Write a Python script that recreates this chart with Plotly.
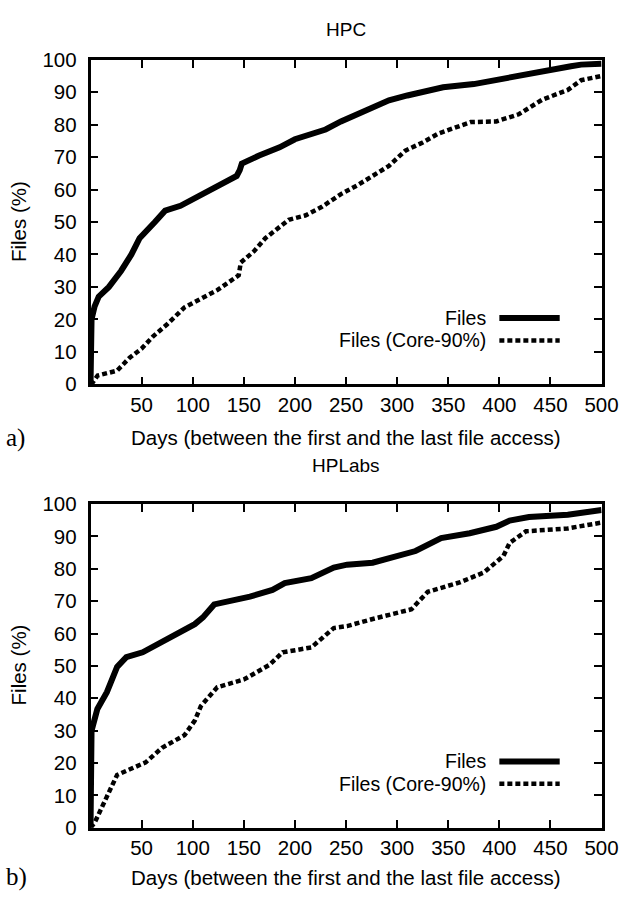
import plotly.graph_objects as go

# ---- data ----
hpc_files_x = [0, 0.5, 1, 4, 8, 18, 30, 40, 48, 63, 73, 88, 100, 115, 128, 143, 146, 148, 165, 185, 200, 215, 230, 245, 260, 275, 292, 310, 330, 345, 375, 404, 430, 451, 470, 480, 500]
hpc_files_y = [0, 12, 20, 24, 27, 30, 35, 40, 45, 50, 53.5, 55, 57, 60, 62, 64.2, 66, 68, 70.5, 73, 75.5, 77, 78.5, 81, 83, 85, 87.5, 89, 90.5, 91.5, 92.5, 94.3, 95.5, 97, 98, 98.5, 98.8]

hpc_core_x = [0, 2, 7, 26, 38, 50, 61, 75, 92, 110, 124, 145, 147, 160, 171, 194, 210, 226, 245, 261, 280, 292, 308, 325, 340, 355, 372, 397, 419, 442, 467, 480, 500]
hpc_core_y = [0, 0.5, 2.7, 4.2, 8.1, 11, 14.7, 18.5, 23.7, 26.5, 29, 33.6, 37.5, 41, 45, 50.7, 52, 54.6, 58.6, 61.3, 65, 67.3, 72, 74.5, 77.2, 79, 80.8, 81, 83.2, 87.7, 90.7, 93.7, 95]

hpl_files_x = [0, 0.5, 1, 6.7, 16, 26, 35, 51, 76, 102, 110, 121, 156, 178, 190, 216, 238, 251, 276, 300, 318, 343, 371, 397, 410, 429, 467, 500]
hpl_files_y = [0, 25, 30, 36.7, 41.9, 49.7, 52.7, 54.2, 58.7, 62.9, 65, 69, 71.4, 73.5, 75.6, 77.1, 80.4, 81.3, 81.9, 84, 85.5, 89.5, 91, 93, 94.9, 96, 96.7, 98.2]

hpl_core_x = [0, 4, 16, 26, 54, 70, 92, 102, 108, 124, 150, 175, 188, 216, 238, 251, 276, 314, 321, 330, 362, 385, 404, 410, 426, 467, 500]
hpl_core_y = [0, 1.5, 9.6, 16.3, 20.2, 24.7, 28.6, 33.1, 37.6, 43.4, 45.8, 50.3, 54.2, 55.7, 61.7, 62.3, 64.5, 67.5, 69.9, 72.9, 75.9, 78.9, 84, 88, 91.6, 92.5, 94.3]

x_ticks = [0, 50, 100, 150, 200, 250, 300, 350, 400, 450, 500]
x_tick_labels = ["", "50", "100", "150", "200", "250", "300", "350", "400", "450", "500"]
y_ticks = [0, 10, 20, 30, 40, 50, 60, 70, 80, 90, 100]

series_names = ["Files", "Files (Core-90%)"]
titles = ["HPC", "HPLabs"]
panel_labels = ["a)", "b)"]
x_title = "Days (between the first and the last file access)"
y_title = "Files (%)"

W, H = 639, 903
FONT = "Liberation Sans, Arial, sans-serif"
FS = 20.5

solid = dict(color="black", width=6)
dashed = dict(color="black", width=4.5, dash="5px,3px")

fig = go.Figure()
fig.add_trace(go.Scatter(x=hpc_files_x, y=hpc_files_y, mode="lines", line=solid, xaxis="x", yaxis="y", showlegend=False))
fig.add_trace(go.Scatter(x=hpc_core_x, y=hpc_core_y, mode="lines", line=dashed, xaxis="x", yaxis="y", showlegend=False))
fig.add_trace(go.Scatter(x=hpl_files_x, y=hpl_files_y, mode="lines", line=solid, xaxis="x2", yaxis="y2", showlegend=False))
fig.add_trace(go.Scatter(x=hpl_core_x, y=hpl_core_y, mode="lines", line=dashed, xaxis="x2", yaxis="y2", showlegend=False))

def px_x(p):
    return p / W

def px_y(p):
    return 1 - p / H

xdom = [px_x(93), px_x(618)]
top_dom = [px_y(382), px_y(49)]
bot_dom = [px_y(837), px_y(505)]

def xaxis(anchor):
    return dict(domain=xdom, anchor=anchor, range=[0, 500], tickmode="array", tickvals=x_ticks,
                ticktext=x_tick_labels, ticks="inside", ticklen=8, tickwidth=2, tickcolor="black",
                showline=True, linewidth=2.5, linecolor="black", mirror="ticks", showgrid=False,
                zeroline=False, tickfont=dict(family=FONT, size=FS, color="black"), ticklabelstandoff=0)

def yaxis(anchor, dom):
    return dict(domain=dom, anchor=anchor, range=[0, 100], tickmode="array", tickvals=y_ticks,
                ticks="inside", ticklen=8, tickwidth=2, tickcolor="black",
                showline=True, linewidth=2.5, linecolor="black", mirror="ticks", showgrid=False,
                zeroline=False, tickfont=dict(family=FONT, size=FS, color="black"), ticklabelstandoff=7)

fig.update_layout(
    width=W, height=H, margin=dict(l=0, r=0, t=0, b=0),
    paper_bgcolor="white", plot_bgcolor="white",
    xaxis=xaxis("y"), yaxis=yaxis("x", top_dom),
    xaxis2=xaxis("y2"), yaxis2=yaxis("x2", bot_dom),
    showlegend=False,
)

ann = []
shapes = []
for i, (ytitle_px, xlab_px, yc_px, leg1, leg2) in enumerate([(18, 437, 215, 314, 337), (465, 888, 670, 769, 792)]):
    ann.append(dict(text=titles[i], x=px_x(355), y=px_y(ytitle_px), xref="paper", yref="paper",
                    showarrow=False, font=dict(family=FONT, size=19, color="black"), yanchor="middle"))
    ann.append(dict(text=x_title, x=px_x(355), y=px_y(xlab_px), xref="paper", yref="paper",
                    showarrow=False, font=dict(family=FONT, size=FS, color="black"), yanchor="middle"))
    ann.append(dict(text=panel_labels[i], x=px_x(4), y=px_y(xlab_px), xref="paper", yref="paper",
                    xanchor="left", showarrow=False, font=dict(family="Liberation Serif, serif", size=25, color="black"),
                    yanchor="middle"))
    ann.append(dict(text=y_title, x=px_x(19), y=px_y(yc_px), xref="paper", yref="paper", textangle=-90,
                    showarrow=False, font=dict(family=FONT, size=FS, color="black"), xanchor="center", yanchor="middle"))
    for j, (lp, style) in enumerate([(leg1, solid), (leg2, dashed)]):
        ann.append(dict(text=series_names[j], x=px_x(501), y=px_y(lp), xref="paper", yref="paper",
                        xanchor="right", yanchor="middle", showarrow=False,
                        font=dict(family=FONT, size=19.5, color="black")))
        shapes.append(dict(type="line", xref="paper", yref="paper", x0=px_x(513), x1=px_x(575),
                           y0=px_y(lp), y1=px_y(lp), line=style))

fig.update_layout(annotations=ann, shapes=shapes)
fig.write_html("out.html")
